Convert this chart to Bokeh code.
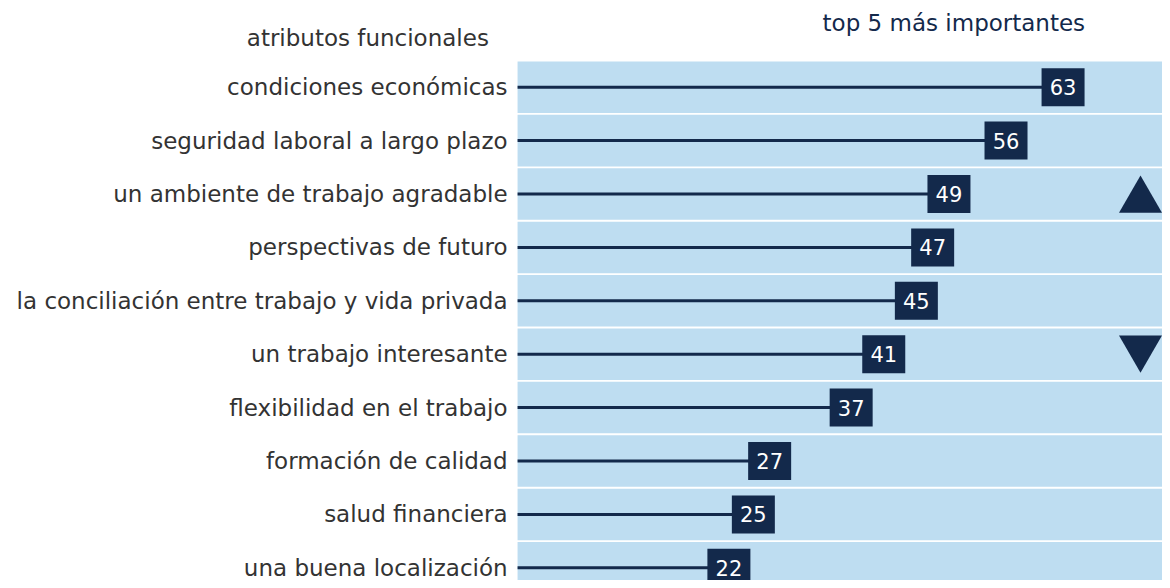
from bokeh.plotting import figure
from bokeh.models import Range1d, ColumnDataSource
from bokeh.transform import dodge
from bokeh.core.properties import value
from bokeh.embed import file_html
from bokeh.resources import INLINE

categories = [
    "condiciones económicas",
    "seguridad laboral a largo plazo",
    "un ambiente de trabajo agradable",
    "perspectivas de futuro",
    "la conciliación entre trabajo y vida privada",
    "un trabajo interesante",
    "flexibilidad en el trabajo",
    "formación de calidad",
    "salud financiera",
    "una buena localización",
]
values = [63, 56, 49, 47, 45, 41, 37, 27, 25, 22]
trend_up = ["un ambiente de trabajo agradable"]
trend_down = ["un trabajo interesante"]
left_title = "atributos funcionales"
right_title = "top 5 más importantes"

NAVY = "#13294B"
BAND = "#BEDDF1"
GREY = "#333333"
FONT = "DejaVu Sans"

X_MIN, BAND_START, X_END = -67.37, -3.93, 75.2
Y_BOTTOM, Y_TOP = 9.238, -1.624   # row index axis, first row at top
HEADER_ROW = -1
MARK_X = 72.5
TRI_SHIFT = 0.118
LEFT_TITLE_X = -22.3
RIGHT_TITLE_X = 49.6

rows = list(range(len(categories)))

p = figure(
    width=1162, height=580,
    y_range=Range1d(Y_BOTTOM, Y_TOP),
    x_range=Range1d(X_MIN, X_END),
    output_backend="svg", toolbar_location=None,
    min_border_left=0, min_border_top=0, min_border_right=0, min_border_bottom=0,
)
p.outline_line_color = None
p.background_fill_color = "white"
p.grid.visible = False
p.axis.visible = False

src = ColumnDataSource(dict(row=rows, cat=categories, val=values, lab=[str(v) for v in values],
                            start=[BAND_START] * len(values)))

p.hbar(y="row", left=BAND_START, right=X_END, height=0.965, fill_color=BAND, line_color=None, source=src)
p.segment(x0="start", y0="row", x1="val", y1="row", line_color=NAVY, line_width=3, source=src)
p.rect(x="val", y="row", width=43, height=38, width_units="screen", height_units="screen",
       fill_color=NAVY, line_color=None, source=src)
p.text(x="val", y="row", text="lab", text_align="center", text_baseline="middle",
       text_color="white", text_font=value(FONT), text_font_size="21px", source=src)

# category labels (left column)
p.text(x="start", y="row", text="cat", x_offset=-10, text_align="right", text_baseline="middle",
       text_color=GREY, text_font=value(FONT), text_font_size="23px", source=src)

# headers
p.text(x=[LEFT_TITLE_X], y=[HEADER_ROW], text=[left_title], y_offset=4, text_align="center",
       text_baseline="middle", text_color=GREY, text_font=value(FONT), text_font_size="23px")
p.text(x=[RIGHT_TITLE_X], y=[HEADER_ROW], text=[right_title], y_offset=-11, text_align="center",
       text_baseline="middle", text_color=NAVY, text_font=value(FONT), text_font_size="23px")

up = ColumnDataSource(dict(x=[MARK_X] * len(trend_up), y=[categories.index(c) for c in trend_up]))
down = ColumnDataSource(dict(x=[MARK_X] * len(trend_down), y=[categories.index(c) for c in trend_down]))
p.scatter(x="x", y=dodge("y", TRI_SHIFT), marker="triangle", size=43,
          fill_color=NAVY, line_color=None, source=up)
p.scatter(x="x", y=dodge("y", -TRI_SHIFT), marker="inverted_triangle", size=43,
          fill_color=NAVY, line_color=None, source=down)

open("out.html", "w").write(file_html(p, INLINE))
